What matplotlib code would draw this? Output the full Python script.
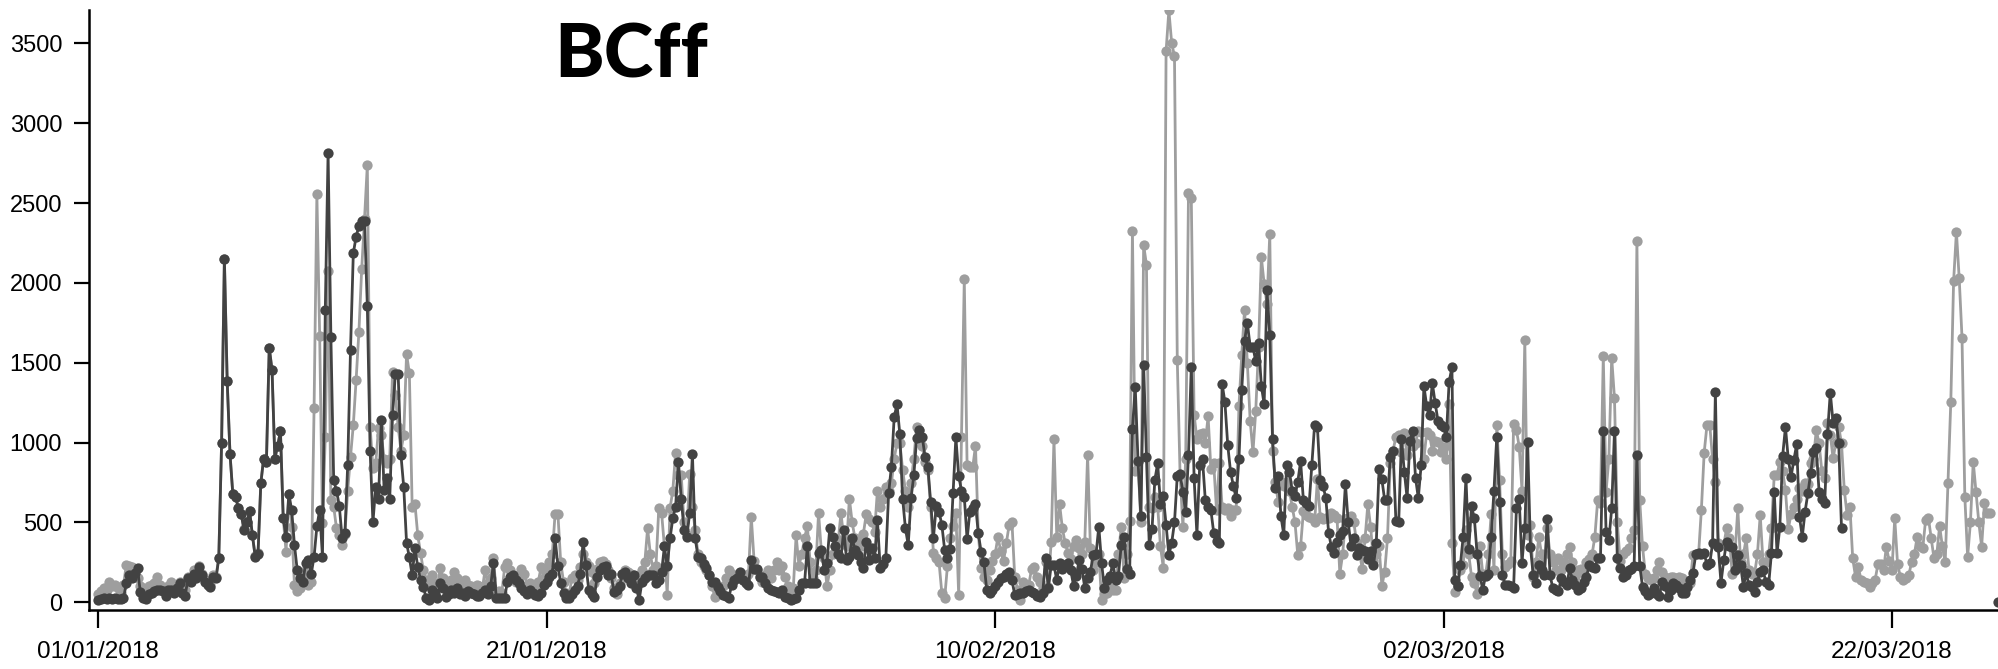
import numpy as np
import matplotlib
matplotlib.use("Agg")
import matplotlib.pyplot as plt
import matplotlib.dates as mdates
from datetime import datetime, timedelta

nan = float("nan")

# 3-hourly samples starting 01/01/2018 00:00
start = datetime(2018, 1, 1)
step_hours = 3

# light series
bc_light = [
    50, 70, 90, 80, 130, 100, 110, 90,
    60, 110, 233, 230, 223, 200, 150, 100,
    90, 80, 100, 110, 120, 160, 110, 90,
    80, 100, 130, 100, 90, 130, 90, 80,
    160, 150, 200, 170, 230, 180, 140, 120,
    110, 170, 160, 280, 995, 2150, 1385, 930,
    680, 660, 590, 555, 460, 500, 570, 420,
    290, 310, 745, 900, 880, 1595, 1455, 900,
    980, 1072, 525, 317, 680, 473, 110, 73,
    90, 150, 200, 108, 130, 1215, 2555, 1670,
    495, 1037, 2075, 640, 600, 463, 420, 360,
    430, 700, 912, 1110, 1392, 1695, 2090, 2400,
    2738, 1100, 840, 870, 1090, 1048, 900, 870,
    900, 1444, 1300, 1100, 950, 1050, 1555, 1434,
    600, 615, 420, 307, 200, 140, 130, 171,
    120, 100, 213, 150, 110, 100, 140, 192,
    150, 120, 100, 140, 110, 100, 90, 110,
    100, 80, 200, 120, 150, 280, 60, 70,
    60, 220, 245, 200, 170, 130, 160, 210,
    180, 100, 120, 90, 80, 130, 220, 150,
    200, 250, 300, 555, 555, 250, 130, 60,
    50, 150, 170, 140, 220, 300, 250, 230,
    190, 120, 210, 250, 260, 240, 200, 150,
    90, 50, 120, 180, 200, 190, 180, 160,
    140, 120, 200, 250, 463, 300, 200, 230,
    588, 560, 350, 46, 588, 700, 937, 800,
    800, 500, 420, 803, 600, 450, 300, 250,
    230, 200, 170, 100, 35, 60, 80, 100,
    150, 200, 180, 150, 170, 180, 140, 160,
    180, 536, 260, 200, 160, 130, 170, 200,
    150, 200, 250, 200, 230, 160, 100, 50,
    90, 420, 230, 300, 400, 480, 250, 150,
    200, 560, 320, 280, 100, 200, 300, 350,
    380, 560, 400, 350, 650, 500, 400, 380,
    350, 430, 550, 520, 500, 440, 700, 600,
    650, 720, 700, 745, 900, 1000, 1000, 830,
    700, 600, 750, 900, 1100, 1079, 980, 880,
    830, 600, 307, 280, 250, 56, 25, 230,
    400, 480, 560, 46, 1037, 2022, 860, 850,
    845, 979, 432, 213, 160, 140, 200, 260,
    300, 411, 320, 256, 369, 484, 505, 160,
    80, 15, 130, 110, 109, 208, 220, 160,
    130, 90, 250, 98, 380, 1020, 410, 616,
    463, 372, 310, 270, 350, 390, 340, 300,
    380, 921, 340, 200, 250, 300, 14, 50,
    60, 91, 80, 78, 300, 474, 150, 300,
    512, 2326, 820, 880, 500, 2237, 2114, 600,
    590, 660, 600, 350, 218, 3450, 3706, 3502,
    3420, 1517, 800, 474, 900, 2560, 2531, 1176,
    1023, 1057, 1060, 1000, 1164, 832, 870, 576,
    870, 600, 576, 590, 538, 576, 576, 1228,
    1547, 1833, 1500, 1138, 940, 1200, 1600, 2160,
    1994, 1867, 2306, 950, 755, 627, 755, 730,
    755, 700, 600, 500, 295, 350, 570, 545,
    535, 530, 500, 770, 535, 520, 530, 530,
    560, 545, 530, 180, 300, 520, 530, 540,
    500, 372, 320, 206, 400, 615, 470, 260,
    300, 350, 104, 190, 400, 870, 950, 1036,
    1050, 940, 1060, 921, 1050, 980, 1000, 1070,
    1065, 900, 1065, 1050, 950, 1010, 1005, 940,
    970, 896, 1240, 372, 65, 100, 200, 231,
    450, 300, 160, 120, 52, 350, 180, 170,
    300, 555, 200, 1110, 766, 300, 220, 240,
    260, 1114, 1080, 975, 700, 1642, 420, 484,
    160, 250, 411, 300, 180, 463, 300, 250,
    200, 275, 200, 250, 300, 348, 250, 160,
    200, 210, 180, 250, 270, 300, 411, 640,
    620, 1542, 693, 900, 1532, 1277, 500, 260,
    300, 320, 338, 400, 453, 2262, 641, 350,
    180, 150, 140, 150, 200, 250, 190, 160,
    140, 160, 160, 150, 160, 150, 120, 120,
    120, 296, 300, 300, 580, 937, 1110, 1110,
    900, 755, 370, 360, 360, 463, 400, 180,
    300, 588, 250, 300, 400, 200, 180, 180,
    300, 547, 250, 250, 300, 463, 797, 800,
    880, 820, 703, 460, 550, 600, 650, 714,
    700, 750, 740, 870, 900, 1079, 995, 820,
    776, 1121, 1050, 901, 1000, 1100, 995, 703,
    547, 600, 275, 161, 220, 140, 130, 120,
    98, 120, 140, 240, 240, 200, 348, 260,
    200, 526, 240, 160, 140, 150, 170, 250,
    300, 411, 350, 340, 515, 530, 400, 275,
    300, 478, 350, 250, 745, 1256, 2012, 2320,
    2028, 1657, 662, 286, 500, 880, 693, 500,
    348, 620, 557, 560, nan, nan, nan,
]

# dark series
bc_dark = [
    15, 20, 25, 20, 25, 20, 30, 20,
    20, 25, 119, 171, 150, 185, 213, 65,
    30, 20, 50, 60, 70, 75, 80, 70,
    40, 75, 80, 60, 90, 120, 60, 40,
    150, 130, 180, 150, 220, 170, 130, 110,
    98, 160, 150, 275, 995, 2150, 1385, 930,
    680, 660, 590, 555, 450, 500, 570, 420,
    285, 305, 745, 900, 880, 1595, 1455, 900,
    980, 1072, 525, 410, 680, 578, 360, 200,
    150, 130, 245, 265, 180, 285, 475, 578,
    285, 1830, 2815, 1663, 765, 700, 603, 405,
    432, 860, 1580, 2185, 2290, 2355, 2390, 2390,
    1857, 950, 500, 725, 650, 1140, 703, 776,
    650, 1173, 1430, 1430, 922, 720, 373, 282,
    171, 338, 223, 140, 98, 25, 15, 77,
    60, 25, 119, 90, 35, 50, 77, 60,
    88, 50, 56, 40, 70, 60, 50, 40,
    40, 60, 75, 55, 100, 245, 30, 25,
    25, 30, 130, 160, 170, 140, 120, 90,
    70, 50, 80, 60, 45, 40, 60, 110,
    130, 160, 180, 400, 230, 120, 60, 30,
    25, 50, 80, 100, 180, 380, 234, 80,
    50, 35, 160, 200, 223, 230, 170, 175,
    65, 75, 100, 180, 190, 150, 120, 170,
    90, 15, 130, 150, 170, 172, 170, 120,
    140, 190, 350, 225, 400, 525, 600, 880,
    650, 453, 410, 557, 928, 400, 285, 275,
    240, 213, 170, 130, 130, 98, 70, 46,
    40, 30, 109, 140, 150, 192, 140, 120,
    109, 265, 210, 210, 160, 160, 119, 90,
    77, 70, 66, 60, 77, 35, 25, 15,
    20, 25, 77, 119, 119, 350, 119, 119,
    119, 307, 327, 200, 249, 463, 410, 350,
    300, 278, 453, 265, 285, 400, 330, 296,
    250, 213, 380, 265, 340, 280, 515, 213,
    240, 275, 682, 850, 1162, 1240, 1054, 650,
    463, 359, 651, 797, 1027, 1079, 1037, 912,
    850, 630, 405, 603, 568, 484, 328, 275,
    332, 682, 1033, 791, 700, 662, 394, 568,
    590, 616, 432, 317, 254, 77, 60, 77,
    100, 130, 150, 160, 180, 192, 140, 46,
    50, 56, 60, 70, 77, 65, 56, 40,
    35, 60, 275, 88, 231, 231, 140, 244,
    206, 231, 244, 200, 104, 168, 265, 206,
    91, 150, 193, 295, 300, 474, 244, 91,
    140, 168, 244, 142, 168, 359, 410, 206,
    180, 1087, 1348, 883, 538, 1483, 908, 359,
    461, 768, 870, 615, 666, 487, 295, 372,
    500, 793, 806, 691, 563, 921, 1476, 781,
    423, 857, 896, 640, 600, 576, 436, 385,
    372, 1368, 1253, 985, 819, 730, 653, 896,
    1330, 1637, 1752, 1600, 1598, 1509, 1624, 1355,
    1240, 1956, 1675, 1023, 717, 793, 538, 423,
    857, 819, 700, 666, 755, 883, 640, 620,
    602, 857, 1113, 1100, 768, 730, 653, 436,
    346, 308, 380, 423, 449, 742, 500, 350,
    400, 295, 340, 330, 320, 270, 320, 231,
    370, 832, 770, 640, 640, 908, 947, 512,
    500, 1023, 819, 653, 1010, 1074, 781, 653,
    857, 1355, 1228, 1176, 1373, 1250, 1138, 1113,
    1100, 1036, 1381, 1471, 142, 104, 231, 410,
    781, 334, 602, 525, 300, 168, 78, 168,
    180, 410, 700, 1036, 630, 171, 109, 109,
    100, 88, 588, 645, 248, 463, 1006, 348,
    171, 123, 234, 200, 171, 522, 171, 88,
    80, 70, 150, 130, 109, 213, 140, 109,
    80, 90, 130, 160, 234, 220, 213, 275,
    275, 1073, 440, 390, 588, 1073, 275, 213,
    160, 170, 200, 210, 230, 922, 230, 98,
    70, 46, 60, 88, 50, 40, 130, 100,
    35, 80, 119, 109, 90, 60, 56, 98,
    140, 182, 300, 307, 300, 307, 234, 244,
    369, 1319, 348, 123, 265, 380, 350, 349,
    203, 296, 234, 98, 182, 109, 98, 67,
    130, 192, 200, 130, 109, 307, 693, 307,
    474, 918, 1096, 900, 787, 891, 989, 536,
    411, 568, 682, 808, 943, 964, 693, 650,
    620, 1054, 1313, 1125, 1156, 1000, 463, nan,
] + [nan] * 48 + [nan, nan, nan, nan, nan, nan, 0]

tick_dates = ["01/01/2018", "21/01/2018", "10/02/2018", "02/03/2018", "22/03/2018"]
y_ticks = [0, 500, 1000, 1500, 2000, 2500, 3000, 3500]
title = "BCff"

times = [start + timedelta(hours=step_hours * k) for k in range(len(bc_light))]
light = np.array(bc_light, dtype=float)
dark = np.array(bc_dark, dtype=float)

W, H = 1998, 669
fig = plt.figure(figsize=(W / 100, H / 100), dpi=100)
ax = fig.add_axes([89.3 / W, (H - 610) / H, (W - 89.3) / W, 600 / H])

ax.plot(times, light, color="#9e9e9e", lw=2.0, marker="o", ms=7.4, mew=0, zorder=2)
ax.plot(times, dark, color="#424242", lw=2.0, marker="o", ms=7.4, mew=0, zorder=3)

x0 = mdates.date2num(start)
ax.set_xlim(x0 - 0.40, x0 + 84.73)
ax.set_ylim(-48, 3709)

ax.set_xticks([mdates.date2num(datetime.strptime(t, "%d/%m/%Y")) for t in tick_dates])
ax.set_xticklabels(tick_dates)
ax.set_yticks(y_ticks)
ax.set_yticklabels([str(v) for v in y_ticks])

for side in ["top", "right"]:
    ax.spines[side].set_visible(False)
for side in ["left", "bottom"]:
    ax.spines[side].set_linewidth(1.8)
    ax.spines[side].set_color("black")

ax.tick_params(axis="y", length=11, width=1.6, pad=8.5, labelsize=17, colors="black")
ax.tick_params(axis="x", length=13, width=1.6, pad=9, labelsize=17.5, colors="black")
for lab in ax.get_xticklabels() + ax.get_yticklabels():
    lab.set_fontfamily("Liberation Sans")

fig.text(554 / W, (H - 77) / H, title, fontsize=54, fontweight="black",
         family="Lato", ha="left", va="baseline")

fig.savefig("out.png", dpi=100)
